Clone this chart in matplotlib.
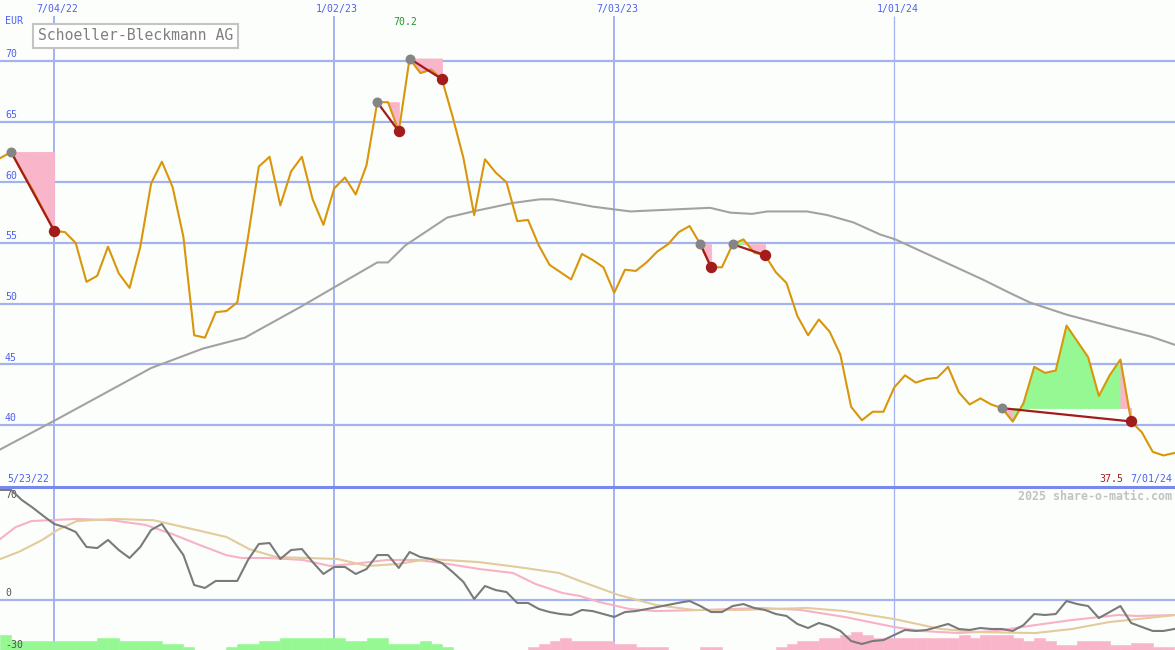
import numpy as np
import matplotlib.pyplot as plt
from matplotlib.lines import Line2D

# weekly closes, first point = week of 5/30/22, last = 7/01/24
price = [62.0, 62.5, 60.9, 59.4, 57.7, 56.0, 55.9, 55.0, 51.8, 52.3,
         54.7, 52.5, 51.3, 54.7, 59.9, 61.7, 59.6, 55.5, 47.4, 47.2,
         49.3, 49.4, 50.1, 55.5, 61.3, 62.1, 58.1, 60.9, 62.1, 58.6,
         56.5, 59.5, 60.4, 59.0, 61.4, 66.6, 66.6, 64.2, 70.2, 69.0,
         69.3, 68.5, 65.4, 62.0, 57.3, 61.9, 60.8, 60.0, 56.8, 56.9,
         54.8, 53.2, 52.6, 52.0, 54.1, 53.6, 53.0, 50.9, 52.8, 52.7,
         53.4, 54.3, 54.9, 55.9, 56.4, 54.9, 53.0, 53.0, 54.9, 55.3,
         54.2, 54.0, 52.6, 51.7, 49.0, 47.4, 48.7, 47.7, 45.8, 41.5,
         40.4, 41.1, 41.1, 43.1, 44.1, 43.5, 43.8, 43.9, 44.8, 42.7,
         41.7, 42.2, 41.7, 41.4, 40.3, 41.8, 44.8, 44.3, 44.5, 48.2,
         46.9, 45.6, 42.4, 44.1, 45.4, 40.3, 39.4, 37.8, 37.5, 37.7]

# long moving average (week index, value)
ma_x = [0, 5.1, 14.0, 18.8, 22.7, 27.8, 31.1, 35.0, 36.0, 37.6, 41.5, 43.9,
        47.6, 50.1, 51.3, 53.8, 55.0, 58.5, 63.4, 65.9, 67.8, 69.8, 71.2,
        74.9, 76.8, 79.2, 81.7, 83.1, 91.2, 93.7, 95.6, 99.0, 103.7, 106.8, 109.1]
ma_val = [38.0, 40.4, 44.7, 46.3, 47.2, 49.7, 51.4, 53.4, 53.4, 54.8, 57.1, 57.6,
          58.3, 58.6, 58.6, 58.2, 58.0, 57.6, 57.8, 57.9, 57.5, 57.4, 57.6,
          57.6, 57.3, 56.7, 55.7, 55.3, 52.0, 50.9, 50.1, 49.1, 48.0, 47.3, 46.6]

peak_idx = [1, 35, 38, 65, 68, 93]
trough_idx = [5, 37, 41, 66, 71, 105]

# lower panel oscillator
osc = [78.6, 78.6, 71.4, 66, 60, 54.3, 52, 48.6, 37.9, 37.1,
       42.9, 35.7, 30, 37.9, 50, 54.3, 42.9, 32.1, 10.7, 8.6,
       13.6, 13.6, 13.6, 28.6, 40, 40.7, 29.3, 35.7, 36.4, 27.1,
       18.6, 23.6, 23.6, 18.6, 22.1, 32.1, 32.1, 22.9, 34.3, 30.7,
       29.3, 26.4, 20, 12.9, 0.7, 10, 7.1, 5.7, -2.1, -2.1,
       -6.4, -8.6, -10, -10.7, -7.1, -7.9, -10, -12.1, -8.6, -7.9,
       -6.5, -5, -3.5, -2, -0.7, -4.3, -8.6, -8.6, -4.3, -2.9,
       -5.7, -7.1, -10, -11.4, -17.1, -20, -16.4, -18.6, -22.1, -29.3,
       -31.4, -29.3, -28.6, -25, -21.4, -22.1, -21.4, -19.3, -17.1, -20.7,
       -21.4, -20, -20.7, -20.7, -22.1, -17.9, -10, -10.7, -10, -0.7,
       -2.9, -4.3, -12.9, -8.6, -4.3, -16.4, -19.3, -22.1, -22.1, -20.7]

fast_x = [0.0, 1.4, 2.9, 4.6, 7.1, 10.3, 13.5, 16.0, 18.5, 21.0, 22.4, 24.9,
          28.1, 30.6, 32.7, 35.9, 38.8, 41.6, 44.5, 47.6, 49.7, 52.2, 53.8,
          55.6, 58.4, 60.9, 65.4, 70.7, 74.3, 78.4, 83.0, 85.5, 89.0, 92.5,
          96.1, 99.5, 103.8, 105.5, 109.1]
fast = [43.6, 52, 56.4, 57, 57.9, 57, 53.6, 47, 39.3, 32, 30, 30,
        28.6, 24.3, 25.7, 28.6, 28.6, 25.7, 22.1, 19.3, 11.4, 5, 2.9,
        -1.4, -6.4, -7.9, -7.1, -5.7, -7.1, -12.1, -19.3, -22.1, -23.6, -22.1,
        -17.9, -14.3, -10.7, -11.4, -10.7]

slow_x = [0.0, 1.7, 3.9, 5.3, 7.1, 10.6, 14.2, 17.8, 21.0, 23.1, 25.6, 28.5,
          31.3, 34.1, 36.9, 39.8, 44.4, 48.0, 51.9, 53.8, 57.4, 60.9, 64.4,
          68.6, 74.9, 78.4, 83.0, 87.3, 90.8, 96.1, 99.5, 103.0, 104.8, 109.1]
slow = [29.3, 34.3, 42.9, 50, 56.4, 57.9, 57, 50.7, 45, 36.4, 30.7, 30,
        29.3, 24.3, 25.7, 29.3, 27.1, 23.6, 19.3, 13.6, 3.6, -3.6, -7.1,
        -7.1, -5.7, -7.9, -13.6, -20.7, -22.9, -23.6, -20.7, -15.7, -14.3, -10.7]

hist = [5, 3, 3, 3, 3, 3, 3, 3, 3, 4, 4, 3, 3, 3, 3, 2, 2, 1, 0, 0,
        0, 1, 2, 2, 3, 3, 4, 4, 4, 4, 4, 4, 3, 3, 4, 4, 2, 2, 2, 3,
        2, 1, 0, 0, 0, 0, 0, 0, 0, -1, -2, -3, -4, -3, -3, -3, -3, -2, -2, -1,
        -1, -1, 0, 0, 0, -1, -1, 0, 0, 0, 0, 0, -1, -2, -3, -3, -4, -4, -5, -6,
        -5, -4, -4, -4, -4, -4, -4, -4, -4, -5, -4, -5, -5, -5, -4, -3, -4, -3,
        -1.7, -1.7, -3, -3, -3, -1.7, -1.7, -2.3, -2.3, -1, -1]

date_ticks = [5, 31, 57, 83]
date_labels = ['7/04/22', '1/02/23', '7/03/23', '1/01/24']
price_ticks = [40, 45, 50, 55, 60, 65, 70]

W, H = 1175, 650
bg = '#fcfefc'
grid = '#a4b2f0'
blue = '#4f5ff0'
orange = '#d9960a'
dred = '#a31c1c'
pink = '#f9b5c9'
green = '#96f892'
mono = 'DejaVu Sans Mono'

fig = plt.figure(figsize=(W / 100, H / 100), dpi=100)
fig.patch.set_facecolor(bg)
ax = fig.add_axes([0, 163 / H, 1, 487 / H])
ax2 = fig.add_axes([0, 0, 1, 163 / H])
for a in (ax, ax2):
    a.set_axis_off()
    a.set_xlim(-0.03, 109.07)
ax.set_ylim(34.9, 75.02)
ax2.set_ylim(-35.7, 80.7)

x = np.arange(len(price))

# grid
for v in price_ticks:
    ax.axhline(v, color=grid, lw=1.6, zorder=1)
for k, t in enumerate(date_ticks):
    lw = 1.4 if k < 3 else 0.9
    ax.vlines(t, 34.9, 73.7, color=grid, lw=lw, zorder=1)
    ax2.axvline(t, color=grid, lw=lw, zorder=1)
ax2.axhline(0, color=grid, lw=1.6, zorder=1)

# peak/trough fills (colour per weekly step)
for p, t in zip(peak_idx, trough_idx):
    level = price[p]
    for k in range(p, t):
        col = green if price[k + 1] > level else pink
        ax.fill_between([k, k + 1], level, [price[k], price[k + 1]],
                        facecolor=col, edgecolor=col, lw=0.6, zorder=2)

ax.plot(ma_x, ma_val, color='#a2a2a2', lw=1.5, zorder=3)
ax.plot(x, price, color=orange, lw=1.5, zorder=4)
for p, t in zip(peak_idx, trough_idx):
    ax.plot([p, t], [price[p], price[t]], color=dred, lw=1.6, zorder=5)
ax.plot(peak_idx, [price[p] for p in peak_idx], 'o', color='#858585',
        ms=7.2, mec='none', zorder=6)
ax.plot(trough_idx, [price[t] for t in trough_idx], 'o', color=dred,
        ms=8.2, mec='none', zorder=6)

# lower panel
hx = np.arange(len(hist))
hcol = [green if h > 0 else pink for h in hist]
ax2.bar(hx, np.abs(hist) * 3 / 1.4, width=1, align='edge', bottom=-35.7,
        color=hcol, edgecolor=hcol, lw=0.4, zorder=2)
ax2.plot(fast_x, fast, color='#f8b2c6', lw=1.5, zorder=3)
ax2.plot(slow_x, slow, color='#e2cb9c', lw=1.5, zorder=3)
ax2.plot(np.arange(len(osc)), osc, color='#7a7a7a', lw=1.5, zorder=4)

sep = Line2D([0, 1], [163 / H, 163 / H], transform=fig.transFigure,
             color='#7a88ee', lw=2.2)
fig.add_artist(sep)

# labels
fs = 7.1
for v in price_ticks:
    ax.annotate(str(v), xy=(0, v), xycoords=('axes fraction', 'data'),
                xytext=(3.6, 1.2), textcoords='offset points',
                va='bottom', ha='left', color=blue, fontsize=fs, family=mono)
for t, lab in zip(date_ticks, date_labels):
    ax.annotate(lab, xy=(t, 1), xycoords=('data', 'axes fraction'),
                xytext=(2.2, -3.2), textcoords='offset points',
                va='top', ha='center', color=blue, fontsize=fs, family=mono)
for v in [70, 0]:
    ax2.annotate(str(v), xy=(0, v), xycoords=('axes fraction', 'data'),
                 xytext=(3.6, 1.2), textcoords='offset points',
                 va='bottom', ha='left', color='#505050', fontsize=fs, family=mono)
ax2.annotate('-30', xy=(0, -30), xycoords=('axes fraction', 'data'),
             xytext=(3.6, -2.5), textcoords='offset points',
             va='center', ha='left', color='#505050', fontsize=fs, family=mono)

imax = int(np.argmax(price))
imin = int(np.argmin(price))
ax.annotate(f'{price[imax]:.1f}', xy=(imax, 1), xycoords=('data', 'axes fraction'),
            xytext=(-3, -12.2), textcoords='offset points', va='top', ha='center',
            color='#22962a', fontsize=fs, family=mono)

fig.text(5 / W, 1 - 21.5 / H, 'EUR', color=blue, fontsize=fs, family=mono,
         va='center', ha='left')
fig.text(38 / W, 1 - 36 / H, 'Schoeller-Bleckmann AG', color='#808080',
         fontsize=10.6, family=mono, va='center', ha='left',
         bbox=dict(boxstyle='square,pad=0.32', fc='white', ec='#c4c4c4', lw=1.5))
fig.text(7 / W, 1 - 479 / H, '5/23/22', color=blue, fontsize=fs, family=mono,
         va='center', ha='left')
fig.text(1172 / W, 1 - 479 / H, '7/01/24', color=blue, fontsize=fs, family=mono,
         va='center', ha='right')
fig.text(1123 / W, 1 - 479 / H, f'{price[imin]:.1f}', color=dred, fontsize=fs,
         family=mono, va='center', ha='right')
fig.text(1172 / W, 1 - 496 / H, '2025 share-o-matic.com', color='#c2c2c2',
         fontsize=8.4, family=mono, weight='bold', va='center', ha='right')

fig.savefig('out.png', dpi=100, facecolor=bg)
